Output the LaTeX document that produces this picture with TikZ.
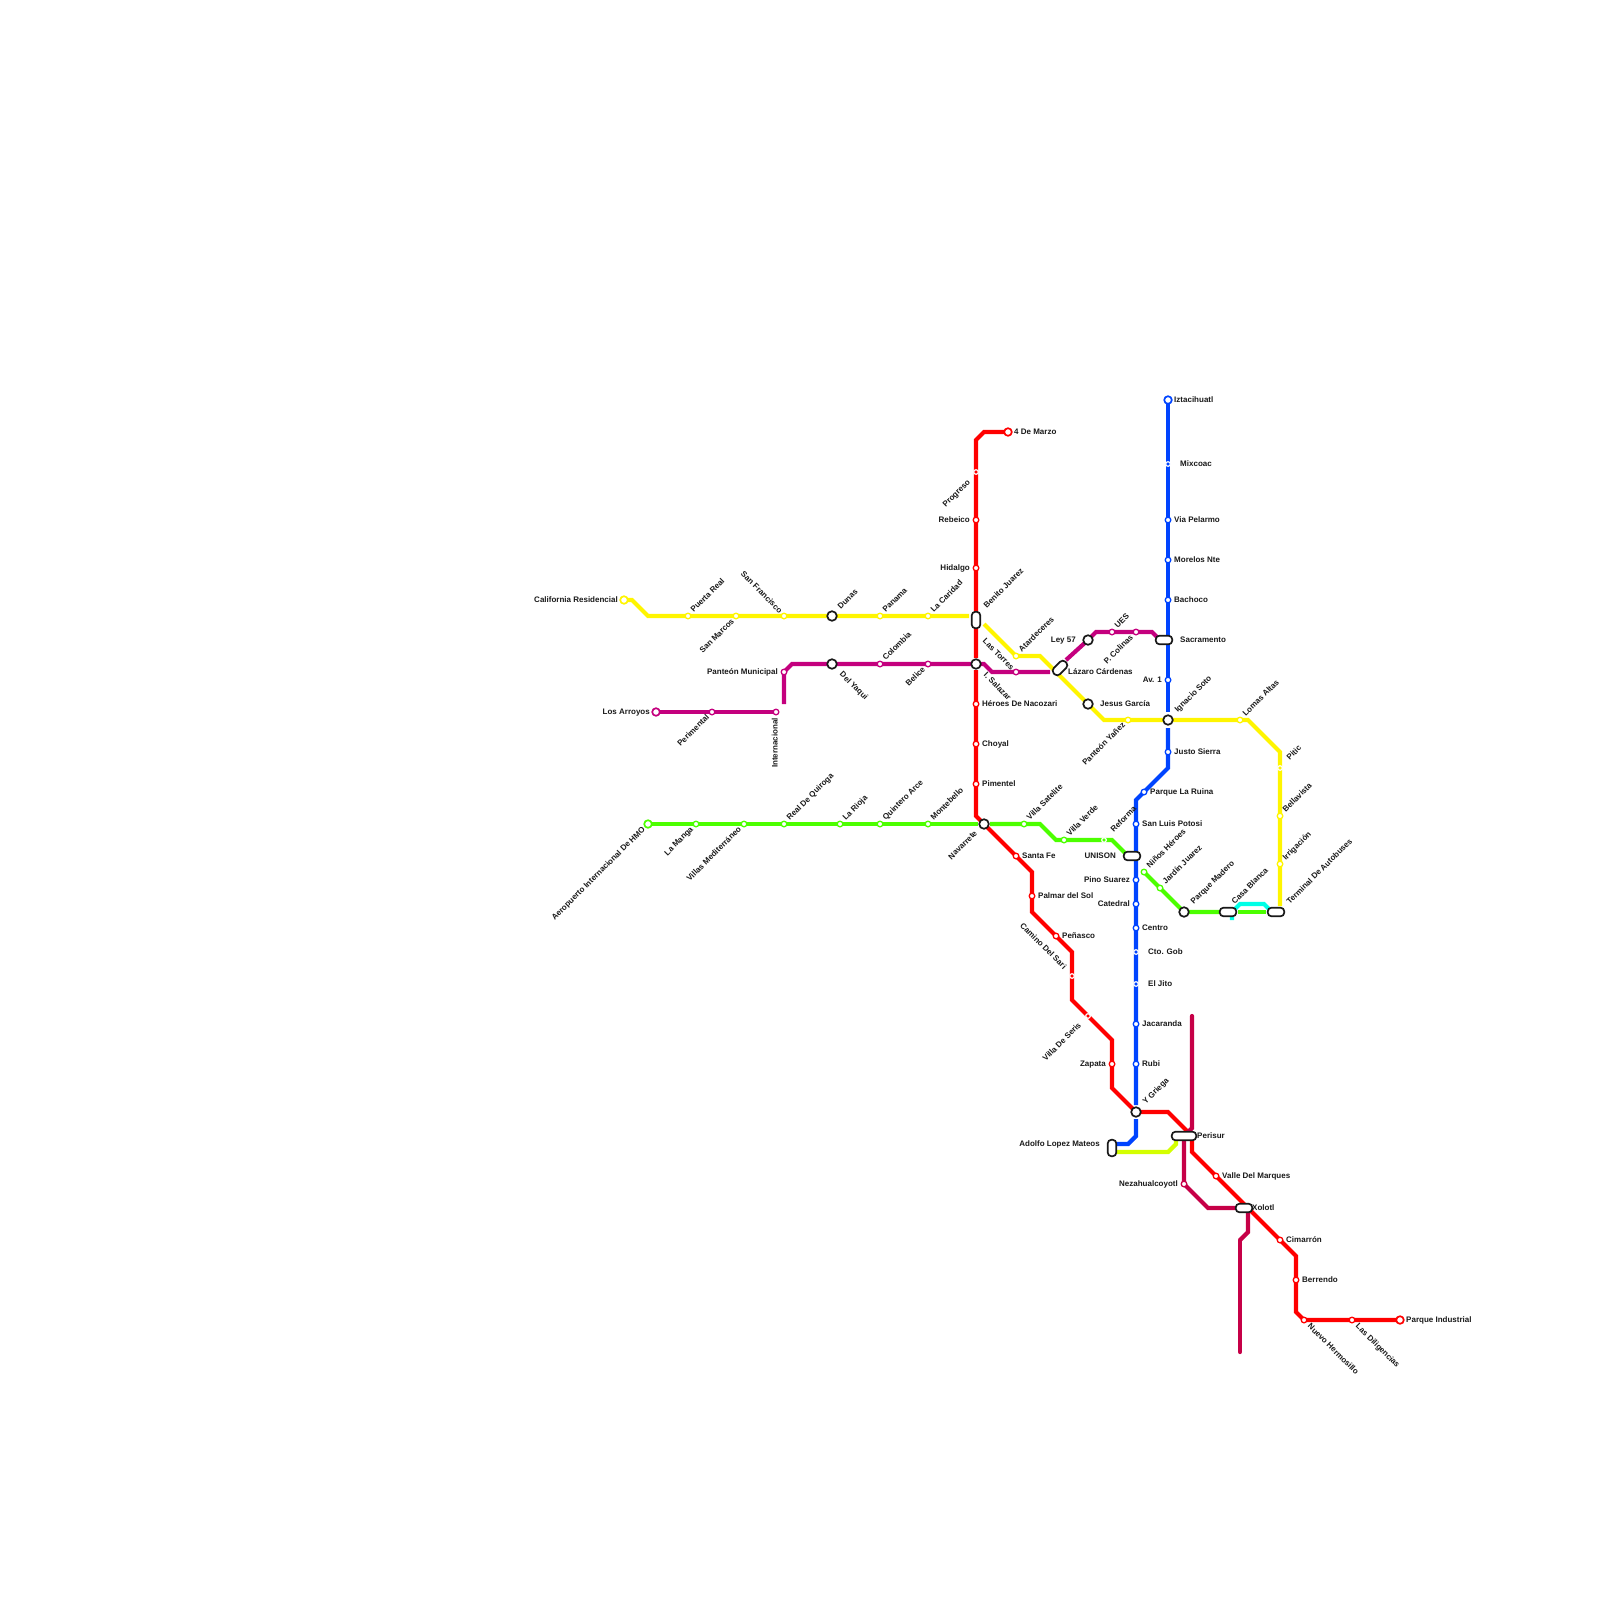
\documentclass[tikz,border=0pt]{standalone}
\usepackage{fontspec}
\setmainfont{Liberation Sans}
\definecolor{cY}{HTML}{FFF500}
\definecolor{cR}{HTML}{FF0000}
\definecolor{cB}{HTML}{0044FF}
\definecolor{cG}{HTML}{4CFF00}
\definecolor{cP}{HTML}{C4007E}
\definecolor{cD}{HTML}{C60047}
\definecolor{cC}{HTML}{00FFE6}
\definecolor{cL}{HTML}{D4FF00}
\tikzset{
 route/.style={line width=4.2pt,line join=miter},
 stn/.style={circle,draw=#1,fill=white,line width=1.3pt,minimum size=5.6pt,inner sep=0pt},
 tiny/.style={circle,draw=white,fill=#1,line width=1.2pt,minimum size=4.6pt,inner sep=0pt},
 term/.style={circle,draw=#1,fill=white,line width=1.7pt,minimum size=7.6pt,inner sep=0pt},
 ring/.style={circle,draw=black!90,fill=white,line width=1.7pt,minimum size=9.6pt,inner sep=0pt},
 pill/.style={rectangle,draw=black!90,fill=white,line width=1.7pt,minimum width=16.5pt,minimum height=8.6pt,rounded corners=3.7pt,inner sep=0pt},
 lbl/.style={font=\bfseries\fontsize{8}{9}\selectfont,inner sep=0pt,text=black!90,text height=6pt,text depth=1pt},
}
\newcommand{\lb}[6]{\node[lbl,anchor=#2,rotate=#3] (l#1) at (#4,#5) {#6};}
\begin{document}
\begin{tikzpicture}[x=1pt,y=-1pt]
\useasboundingbox (0,0) rectangle (1600,1600);
\foreach \n/\x/\y in {
 redA/1008/432,redB/984/432,redC/976/440,prog/976/472,rebe/976/520,hida/976/568,beni/976/620,redD/976/658,redE/976/670,hero/976/704,choy/976/744,pime/976/784,redF/976/816,nava/984/824,sant/1016/856,redG/1032/872,palm/1032/896,redH/1032/912,pena/1056/936,redI/1072/952,cami/1072/976,redJ/1072/1000,vise/1088/1016,redK/1112/1040,zapa/1112/1064,redL/1112/1088,ygri/1136/1112,redM/1168/1112,redN/1192/1136,redO/1192/1152,vall/1216/1176,xolo/1244/1208,cima/1280/1240,redP/1296/1256,berr/1296/1280,redQ/1296/1312,nuev/1304/1320,lasd/1352/1320,pind/1400/1320,
 cali/624/600,yelA/632/600,yelB/648/616,puer/688/616,smar/736/616,sfra/784/616,duna/832/616,pana/880/616,lcar/928/616,yelC/969/616,yelD/984/624,atar/1016/656,yelE/1040/656,laza/1060/668,jesu/1088/704,yelF/1104/720,pyan/1128/720,igna/1168/720,loma/1240/720,yelG/1248/720,yelH/1280/752,piti/1280/768,bell/1280/816,irri/1280/864,yelI/1280/906,term/1276/912,
 larr/656/712,peri/712/712,inte/776/712,purA/784/704,pmun/784/672,purB/792/664,dyaq/832/664,colo/880/664,beli/928/664,lasj/976/664,purC/984/664,purD/992/672,ltor/1016/672,purE/1050/672,purF/1066/660,ley/1088/640,purG/1096/632,ues/1112/632,pcol/1136/632,purH/1152/632,purI/1160/640,sacr/1164/640,
 izta/1168/400,mixc/1168/464,viap/1168/520,more/1168/560,bach/1168/600,av/1168/680,bluA/1168/712,bluB/1168/728,just/1168/752,bluC/1168/768,prui/1144/792,bluD/1136/800,slui/1136/824,unis/1132/856,pino/1136/880,cate/1136/904,cent/1136/928,cgob/1136/952,jito/1136/984,jaca/1136/1024,rubi/1136/1064,bluE/1136/1105,bluF/1136/1119,bluG/1136/1136,bluH/1128/1144,bluI/1112/1144,adol/1112/1148,
 aero/648/824,mang/696/824,vill/744/824,real/784/824,rioj/840/824,quin/880/824,mont/928/824,greA/978/824,greB/990/824,vsat/1024/824,greC/1040/824,greD/1056/840,vver/1064/840,refo/1104/840,greE/1112/840,greF/1128/856,nino/1144/872,jard/1160/888,greG/1176/904,pmad/1184/912,casa/1228/912,greH/1238/912,greI/1266/912,
 cyaA/1232/920,cyaB/1232/912,cyaC/1240/904,cyaD/1264/904,cyaE/1272/912,
 pinA/1192/1016,pinB/1192/1128,peris/1184/1136,neza/1184/1184,pinC/1208/1208,pinD/1248/1212,pinE/1248/1232,pinF/1240/1240,pinG/1240/1352,
 limA/1112/1152,limB/1168/1152,limC/1176/1144,limD/1176/1136%
}{\coordinate (\n) at (\x,\y);}
% routes
\draw[route,cY] (cali)--(yelA)--(yelB)--(puer)--(smar)--(sfra)--(duna)--(pana)--(lcar)--(yelC);
\draw[route,cY] (yelD)--(atar)--(yelE)--(jesu)--(yelF)--(pyan)--(igna)--(loma)--(yelG)--(yelH)--(piti)--(bell)--(irri)--(yelI);
\draw[route,cR] (redA)--(redB)--(redC)--(prog)--(rebe)--(hida)--(beni)--(redD);
\draw[route,cR] (redE)--(hero)--(choy)--(pime)--(redF)--(nava)--(sant)--(redG)--(palm)--(redH)--(pena)--(redI)--(cami)--(redJ)--(vise)--(redK)--(zapa)--(redL)--(ygri)--(redM)--(redN)--(redO)--(vall)--(cima)--(redP)--(berr)--(redQ)--(nuev)--(lasd)--(pind);
\draw[route,cP] (larr)--(peri)--(inte);
\draw[route,cP] (purA)--(pmun)--(purB)--(dyaq)--(colo)--(beli)--(lasj)--(purC)--(purD)--(ltor)--(purE);
\draw[route,cP] (purF)--(ley)--(purG)--(ues)--(pcol)--(purH)--(purI);
\draw[route,cB] (izta)--(mixc)--(viap)--(more)--(bach)--(av)--(bluA);
\draw[route,cB] (bluB)--(just)--(bluC)--(prui)--(bluD)--(slui)--(pino)--(cate)--(cent)--(cgob)--(jito)--(jaca)--(rubi)--(bluE);
\draw[route,cB] (bluF)--(bluG)--(bluH)--(bluI);
\draw[route,cG] (aero)--(mang)--(vill)--(real)--(rioj)--(quin)--(mont)--(greA);
\draw[route,cG] (greB)--(vsat)--(greC)--(greD)--(vver)--(refo)--(greE)--(greF);
\draw[route,cG] (nino)--(jard)--(greG)--(pmad)--(casa);
\draw[route,cG] (greH)--(greI);
\draw[route,cC] (cyaA)--(cyaB)--(cyaC)--(cyaD)--(cyaE);
\draw[route,cD,line cap=round] (pinA)--(pinB)--(peris);
\draw[route,cD] (peris)--(neza)--(pinC)--(xolo)--(pinD)--(pinE)--(pinF);
\draw[route,cD,line cap=round] (pinF)--(pinG);
\draw[route,cL] (limA)--(limB)--(limC)--(limD);
% stations
\foreach \n in {rebe,hida,hero,choy,pime,sant,palm,pena,zapa,vall,cima,berr,nuev,lasd} \node[stn=cR] (s\n) at (\n) {};
\foreach \n in {prog,cami,vise} \node[tiny=cR] (s\n) at (\n) {};
\foreach \n in {puer,smar,sfra,pana,lcar,atar,pyan,loma,bell,irri} \node[stn=cY] (s\n) at (\n) {};
\node[tiny=cY] (spiti) at (piti) {};
\foreach \n in {peri,inte,pmun,colo,beli,ltor,ues,pcol} \node[stn=cP] (s\n) at (\n) {};
\foreach \n in {viap,more,bach,av,just,prui,slui,pino,cate,cent,jaca,rubi} \node[stn=cB] (s\n) at (\n) {};
\foreach \n in {mixc,cgob,jito} \node[tiny=cB] (s\n) at (\n) {};
\foreach \n in {mang,vill,real,rioj,quin,mont,vsat,vver,jard} \node[stn=cG] (s\n) at (\n) {};
\node[tiny=cG] (srefo) at (refo) {};
\node[stn=cD] (sneza) at (neza) {};
\node[term=cR] (spind) at (pind) {};
\node[term=cR] (sredA) at (redA) {};
\node[term=cY] (scali) at (cali) {};
\node[term=cP] (slarr) at (larr) {};
\node[term=cB] (sizta) at (izta) {};
\node[term=cG] (saero) at (aero) {};
\node[stn=cG] (snino) at (nino) {};
\foreach \n in {duna,dyaq,lasj,nava,ygri,ley,jesu,igna,pmad} \node[ring] (s\n) at (\n) {};
\node[pill,rotate=90] (sbeni) at (beni) {};
\node[pill,rotate=45] (slaza) at (laza) {};
\node[pill,rotate=90] (sadol) at (adol) {};
\foreach \n in {sacr,unis,casa,term,xolo} \node[pill] (s\n) at (\n) {};
\node[pill,minimum width=24.5pt] (speris) at (peris) {};
% labels
\lb{cali}{east}{0}{618}{599.5}{California Residencial}
\lb{puer}{west}{45}{692}{611}{Puerta Real}
\lb{smar}{east}{45}{733}{620}{San Marcos}
\lb{sfra}{east}{-45}{781}{612}{San Francisco}
\lb{duna}{west}{45}{839}{608}{Dunas}
\lb{pana}{west}{45}{884}{611}{Panama}
\lb{lcar}{west}{45}{932}{611}{La Caridad}
\lb{beni}{west}{45}{985}{607}{Benito Juarez}
\lb{prog}{east}{45}{969}{481}{Progreso}
\lb{rebe}{east}{0}{970}{519.5}{Rebeico}
\lb{hida}{east}{0}{970}{567.5}{Hidalgo}
\lb{mar}{west}{0}{1014}{431.5}{4 De Marzo}
\lb{atar}{west}{45}{1020}{651}{Atardeceres}
\lb{ltor}{west}{-45}{984}{640}{Las Torres}
\lb{sala}{west}{-45}{985}{674}{I. Salazar}
\lb{dyaq}{west}{-45}{841}{673}{Del Yaqui}
\lb{colo}{west}{45}{884}{659}{Colombia}
\lb{beli}{east}{45}{924}{668}{Belice}
\lb{pmun}{east}{0}{778}{671.5}{Panteón Municipal}
\lb{larr}{east}{0}{650}{711.5}{Los Arroyos}
\lb{peri}{east}{45}{708}{716}{Perimental}
\lb{inte}{east}{90}{775}{718}{Internacional}
\lb{hero}{west}{0}{982}{703.5}{Héroes De Nacozari}
\lb{choy}{west}{0}{982}{743.5}{Choyal}
\lb{pime}{west}{0}{982}{783.5}{Pimentel}
\lb{ley}{east}{0}{1076}{639.5}{Ley 57}
\lb{ues}{west}{45}{1116}{627}{UES}
\lb{pcol}{east}{45}{1132}{636}{P. Colinas}
\lb{sacr}{west}{0}{1180}{639.5}{Sacramento}
\lb{laza}{west}{0}{1068}{671.5}{Lázaro Cárdenas}
\lb{jesu}{west}{0}{1100}{703.5}{Jesus García}
\lb{pyan}{east}{45}{1124}{724}{Panteón Yañez}
\lb{izta}{west}{0}{1174}{399.5}{Iztacihuatl}
\lb{mixc}{west}{0}{1180}{463.5}{Mixcoac}
\lb{viap}{west}{0}{1174}{519.5}{Via Pelarmo}
\lb{more}{west}{0}{1174}{559.5}{Morelos Nte}
\lb{bach}{west}{0}{1174}{599.5}{Bachoco}
\lb{av}{east}{0}{1162}{679.5}{Av. 1}
\lb{igna}{west}{45}{1176}{711}{Ignacio Soto}
\lb{loma}{west}{45}{1244}{715}{Lomas Altas}
\lb{piti}{west}{45}{1288}{759}{Pitic}
\lb{just}{west}{0}{1174}{751.5}{Justo Sierra}
\lb{bell}{west}{45}{1284}{811}{Bellavista}
\lb{irri}{west}{45}{1284}{859}{Irrigación}
\lb{term}{west}{45}{1288}{903}{Terminal De Autobuses}
\lb{casa}{west}{45}{1233}{903}{Casa Blanca}
\lb{pmad}{west}{45}{1192}{903}{Parque Madero}
\lb{jard}{west}{45}{1164}{883}{Jardín Juarez}
\lb{nino}{west}{45}{1148}{867}{Niños Héroes}
\lb{prui}{west}{0}{1150}{791.5}{Parque La Ruina}
\lb{slui}{west}{0}{1142}{823.5}{San Luis Potosi}
\lb{refo}{west}{45}{1112}{831}{Reforma}
\lb{unis}{east}{0}{1116}{855.5}{UNISON}
\lb{pino}{east}{0}{1130}{879.5}{Pino Suarez}
\lb{cate}{east}{0}{1130}{903.5}{Catedral}
\lb{cent}{west}{0}{1142}{927.5}{Centro}
\lb{cgob}{west}{0}{1148}{951.5}{Cto. Gob}
\lb{jito}{west}{0}{1148}{983.5}{El Jito}
\lb{jaca}{west}{0}{1142}{1023.5}{Jacaranda}
\lb{rubi}{west}{0}{1142}{1063.5}{Rubi}
\lb{ygri}{west}{45}{1144}{1103}{Y Griega}
\lb{vsat}{west}{45}{1028}{819}{Villa Satelite}
\lb{vver}{west}{45}{1068}{835}{Villa Verde}
\lb{sant}{west}{0}{1022}{855.5}{Santa Fe}
\lb{palm}{west}{0}{1038}{895.5}{Palmar del Sol}
\lb{pena}{west}{0}{1062}{935.5}{Peñasco}
\lb{cami}{east}{-45}{1065}{968}{Camino Del Sari}
\lb{vise}{east}{45}{1080}{1024}{Villa De Seris}
\lb{zapa}{east}{0}{1106}{1063.5}{Zapata}
\lb{nava}{east}{45}{976}{832}{Navarrete}
\lb{aero}{east}{45}{644}{828}{Aeropuerto Internacional De HMO}
\lb{mang}{east}{45}{692}{828}{La Manga}
\lb{vill}{east}{45}{740}{828}{Villas Mediterráneo}
\lb{real}{west}{45}{788}{819}{Real De Quiroga}
\lb{rioj}{west}{45}{844}{819}{La Rioja}
\lb{quin}{west}{45}{884}{819}{Quintero Arce}
\lb{mont}{west}{45}{932}{819}{Montebello}
\lb{adol}{east}{0}{1100}{1143.5}{Adolfo Lopez Mateos}
\lb{peris}{west}{0}{1197}{1135.5}{Perisur}
\lb{vall}{west}{0}{1222}{1175.5}{Valle Del Marques}
\lb{neza}{east}{0}{1178}{1183.5}{Nezahualcoyotl}
\lb{xolo}{west}{0}{1252}{1207.5}{Xolotl}
\lb{cima}{west}{0}{1286}{1239.5}{Cimarrón}
\lb{berr}{west}{0}{1302}{1279.5}{Berrendo}
\lb{pind}{west}{0}{1406}{1319.5}{Parque Industrial}
\lb{nuev}{west}{-45}{1309}{1325}{Nuevo Hermosillo}
\lb{lasd}{west}{-45}{1357}{1325}{Las Diligencias}
\end{tikzpicture}
\end{document}
